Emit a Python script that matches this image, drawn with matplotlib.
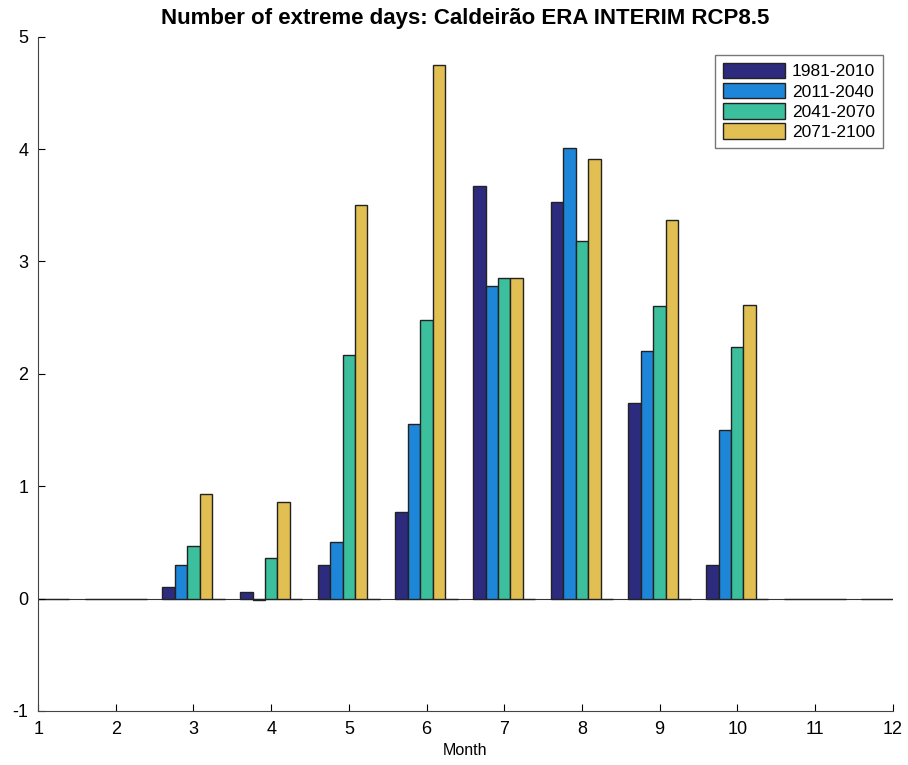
import numpy as np
import matplotlib.pyplot as plt

plt.rcParams['font.family'] = ['Liberation Sans', 'DejaVu Sans']
plt.rcParams['axes.unicode_minus'] = False

months = np.arange(1, 13)
labels = ['1981-2010', '2011-2040', '2041-2070', '2071-2100']
# number of extreme days per month
p1981 = [0, 0, 0.10, 0.06, 0.30, 0.77, 3.67, 3.53, 1.74, 0.30, 0, 0]
p2011 = [0, 0, 0.30, -0.01, 0.50, 1.55, 2.78, 4.01, 2.20, 1.50, 0, 0]
p2041 = [0, 0, 0.47, 0.36, 2.17, 2.48, 2.85, 3.18, 2.60, 2.24, 0, 0]
p2071 = [0, 0, 0.93, 0.86, 3.50, 4.75, 2.85, 3.91, 3.37, 2.61, 0, 0]
# fifth (empty) series in the original group
empty = [0] * 12

series = [p1981, p2011, p2041, p2071, empty]
colors = ['#2d2b7e', '#1e86d8', '#3cbf9c', '#e2bf52', '#888888']

fig = plt.figure(figsize=(9.08, 7.65), dpi=100)
ax = fig.add_axes([0.042, 0.0706, 0.941, 0.8814])

w = 0.8 / len(series)
for i, vals in enumerate(series):
    off = (i - (len(series) - 1) / 2) * w
    ax.bar(months + off, vals, width=w, color=colors[i], edgecolor='#222222',
           linewidth=1.0, label=labels[i] if i < len(labels) else None)

ax.axhline(0, color='#333333', linewidth=0.8, zorder=0.5)

ax.set_xlim(1, 12)
ax.set_ylim(-1, 5)
ax.set_xticks(months)
ax.set_yticks(np.arange(-1, 6))
ax.tick_params(direction='in', labelsize=13, length=5, width=0.8, pad=7)
ax.spines['top'].set_visible(False)
ax.spines['right'].set_visible(False)
for s in ('left', 'bottom'):
    ax.spines[s].set_color('#444444')
ax.set_xlabel('Month', fontsize=11.5, labelpad=4)
ax.set_title('Number of extreme days: Caldeirão ERA INTERIM RCP8.5',
             fontsize=16, fontweight='bold', pad=9)

leg = ax.legend(loc='upper right', bbox_to_anchor=(0.999, 0.986), fontsize=12.5,
                fancybox=False, edgecolor='#555555', handlelength=3.6,
                handleheight=1.0, labelspacing=0.2, borderpad=0.45,
                handletextpad=0.4)
leg.get_frame().set_linewidth(1.0)

fig.savefig('out.png', dpi=100)
